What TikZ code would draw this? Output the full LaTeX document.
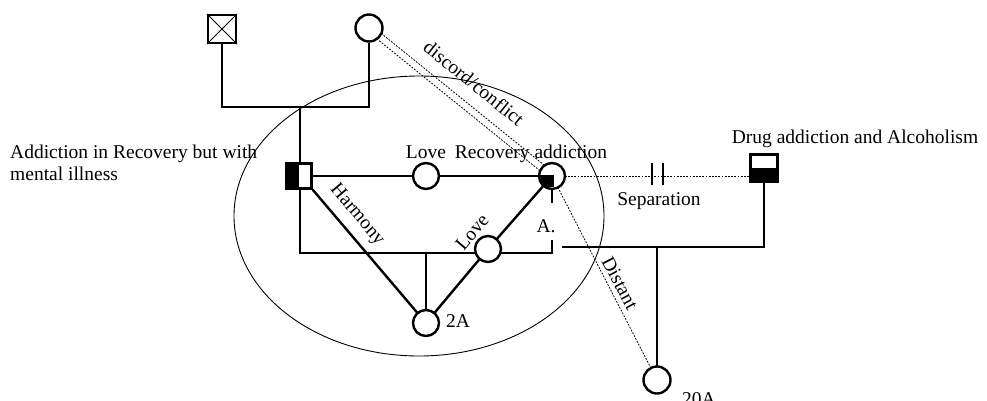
\documentclass[tikz,border=0pt]{standalone}
\usepackage{fontspec}
\setmainfont{Liberation Serif}
\usetikzlibrary{backgrounds,calc}
\begin{document}
\begin{tikzpicture}[x=1pt,y=-1pt,
  thickline/.style={line width=2.4pt},
  pcircle/.style={circle, draw, line width=2.4pt, minimum size=26pt, inner sep=0pt, fill=white},
  psquare/.style={rectangle, draw, line width=2.4pt, minimum size=#1, inner sep=0pt, fill=white},
  lbl/.style={font=\fontsize{19.5}{22}\selectfont, inner sep=0pt},
  rel/.style={line width=0.8pt, dash pattern=on 1.8pt off 1.4pt}]
\useasboundingbox (0,0) rectangle (987,400);

% persons
\node[psquare=28pt] (sqX) at (222,29) {};
\draw[line width=0.8pt] (sqX.north west) -- (sqX.south east) (sqX.north east) -- (sqX.south west);
\node[pcircle, minimum size=27pt] (cTop) at (369,28) {};
\node[psquare=25pt] (pL) at (299,176) {};
\fill (pL.north west) rectangle (pL.south);
\node[pcircle] (cLove) at (426,176) {};
\node[pcircle] (cRec) at (552,176) {};
\begin{scope}
  \clip (cRec.center) circle (12pt);
  \fill ([xshift=-14pt,yshift=1pt]cRec.center) rectangle ([xshift=2pt,yshift=-11pt]cRec.center);
\end{scope}
\node[psquare=27pt] (pDrug) at (764,168) {};
\fill (pDrug.west) rectangle (pDrug.south east);
\node[pcircle] (cLoveB) at (488,249) {};
\node[pcircle] (c2A) at (426,323) {};
\node[pcircle, minimum size=27pt] (c20A) at (657,380) {};

% helper coordinates
\coordinate (m1) at (222,107);
\coordinate (m2) at (300,107);
\coordinate (b1) at (300,253);
\coordinate (b2) at (552,253);
\coordinate (a1) at (552,240);
\coordinate (a2) at (552,203);
\coordinate (d1) at (562,247);
\coordinate (s1) at (652,163);
\coordinate (s2) at (663,163);

\begin{pgfonlayer}{background}
  \draw[line width=0.9pt] (419,216) ellipse [x radius=185pt, y radius=140pt];
  \draw[thickline] (sqX.south) -- (m1) -| (cTop.south);
  \draw[thickline] (m2) -- (b1) -- (b2) -- (a1);
  \draw[thickline] (cRec.south) -- (a2);
  \draw[thickline] (pL.center) -- (cLove.center) -- (cRec.center);
  \draw[thickline] (pL.south east) -- (c2A.center);
  \draw[thickline] (cRec.center) -- (cLoveB.center) -- (c2A.center);
  \draw[thickline] (c2A |- b1) -- (c2A.center);
  \draw[rel] (cRec.center) -- (pDrug.west |- cRec.center);
  \draw[line width=2.2pt] (s1) -- ++(0,22) (s2) -- ++(0,22);
  \draw[thickline] (pDrug.south) -- (pDrug.south |- d1) -- (d1);
  \draw[thickline] (c20A |- d1) -- (c20A.center);
  \draw[rel] (cRec.center) -- (c20A.center);
  \draw[rel] ($(cTop.center)!3.5pt!90:(cRec.center)$) -- ($(cRec.center)!3.5pt!-90:(cTop.center)$);
  \draw[rel] ($(cTop.center)!3.5pt!-90:(cRec.center)$) -- ($(cRec.center)!3.5pt!90:(cTop.center)$);
\end{pgfonlayer}

% labels
\node[lbl, anchor=base] (tLove) at (426,158) {Love};
\node[lbl, anchor=base] (tRec) at (531,158) {Recovery addiction};
\node[lbl, anchor=base] (tDrug) at (855,143) {Drug addiction and Alcoholism};
\node[lbl, anchor=base west] (tLeftA) at (10,158) {Addiction in Recovery but with};
\node[lbl, anchor=base west] (tLeftB) at (10,180) {mental illness};
\node[lbl, anchor=base] (tSep) at (659,205) {Separation};
\node[lbl, anchor=base] (tA) at (546,232) {A.};
\node[lbl, anchor=base west] (t2A) at (446,327) {2A};
\node[lbl, anchor=base west] (t20A) at (682,405) {20A};
\node[lbl, rotate=-49.8] (tHarm) at (357,215) {Harmony};
\node[lbl, rotate=49.6] (tLoveB) at (472,232) {Love};
\node[lbl, rotate=-39] (tDisc) at (474,83) {discord/conflict};
\node[lbl, rotate=-62] (tDist) at (620,283) {Distant};
\end{tikzpicture}
\end{document}
